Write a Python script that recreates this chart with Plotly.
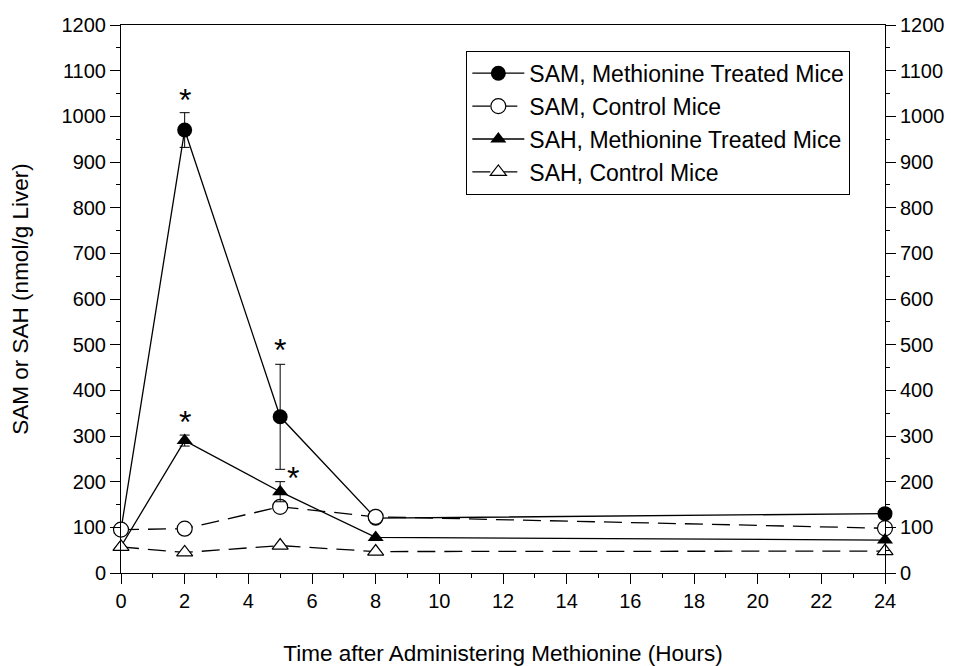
import plotly.graph_objects as go

hours = [0, 2, 5, 8, 24]
sam_treated = [95, 970, 342, 120, 130]
sam_treated_err = [0, 38, 115, 0, 0]
sam_control = [95, 97, 145, 123, 98]
sah_treated = [58, 290, 178, 78, 72]
sah_treated_err = [0, 12, 22, 0, 0]
sah_control = [57, 45, 60, 47, 48]

star_x = [2, 5, 2, 5.4]
star_y = [1035, 488, 330, 208]

x_ticks = list(range(0, 25, 2))
y_ticks = list(range(0, 1201, 100))

FONT = "Liberation Sans, Arial, sans-serif"
fig = go.Figure()

dash = "18px,9px"
fig.add_trace(go.Scatter(x=hours, y=sam_treated, name="SAM, Methionine Treated Mice",
    mode="lines+markers", line=dict(color="black", width=1.3),
    marker=dict(symbol="circle", size=15, color="black"),
    error_y=dict(type="data", array=sam_treated_err, visible=True, color="black", thickness=1, width=5),
    cliponaxis=False))
fig.add_trace(go.Scatter(x=hours, y=sam_control, name="SAM, Control Mice",
    mode="lines+markers", line=dict(color="black", width=1.3, dash=dash),
    marker=dict(symbol="circle", size=15, color="white", line=dict(color="black", width=1.2)),
    cliponaxis=False))
fig.add_trace(go.Scatter(x=hours, y=sah_treated, name="SAH, Methionine Treated Mice",
    mode="lines+markers", line=dict(color="black", width=1.3),
    marker=dict(symbol="triangle-up", size=14, color="black"),
    error_y=dict(type="data", array=sah_treated_err, visible=True, color="black", thickness=1, width=5),
    cliponaxis=False))
fig.add_trace(go.Scatter(x=hours, y=sah_control, name="SAH, Control Mice",
    mode="lines+markers", line=dict(color="black", width=1.3, dash=dash),
    marker=dict(symbol="triangle-up", size=14, color="white", line=dict(color="black", width=1.2)),
    cliponaxis=False))
# dummy trace for right axis
fig.add_trace(go.Scatter(x=[0], y=[0], yaxis="y2", showlegend=False, hoverinfo="skip",
    mode="markers", marker=dict(opacity=0)))

for sx, sy in zip(star_x, star_y):
    fig.add_annotation(x=sx, y=sy, text="*", showarrow=False,
                       font=dict(size=32, family=FONT, color="black"))

axis_common = dict(showline=True, linecolor="black", linewidth=1, ticks="outside",
                   ticklen=10, tickcolor="black", tickwidth=1, showgrid=False, zeroline=False,
                   automargin=False,
                   tickfont=dict(size=20, family=FONT, color="black"))
minor_common = dict(ticks="outside", ticklen=4, tickcolor="black", showgrid=False)

# page body has an 8px margin, so the figure is sized 8px smaller
fig.update_layout(
    width=946, height=658,
    margin=dict(l=113, r=69, t=17, b=93),
    plot_bgcolor="white", paper_bgcolor="white",
    font=dict(family=FONT, color="black"),
    xaxis=dict(range=[0, 24], tickvals=x_ticks, mirror=True,
               minor=dict(dtick=1, **minor_common),
               title=dict(text="Time after Administering Methionine (Hours)",
                          font=dict(size=22.5, family=FONT), standoff=36),
               **axis_common),
    yaxis=dict(range=[0, 1200], tickvals=y_ticks,
               minor=dict(dtick=50, **minor_common),
               title=dict(text="SAM or SAH (nmol/g Liver)", font=dict(size=22.5, family=FONT), standoff=26),
               **axis_common),
    yaxis2=dict(range=[0, 1200], tickvals=y_ticks, overlaying="y", side="right", anchor="x",
                minor=dict(dtick=50, **minor_common),
                **axis_common),
    legend=dict(x=0.452, y=0.953, xanchor="left", yanchor="top",
                bordercolor="black", borderwidth=1, bgcolor="white",
                font=dict(size=23, family=FONT), tracegroupgap=0,
                itemwidth=52),
    showlegend=True,
)

fig.write_html("out.html")
